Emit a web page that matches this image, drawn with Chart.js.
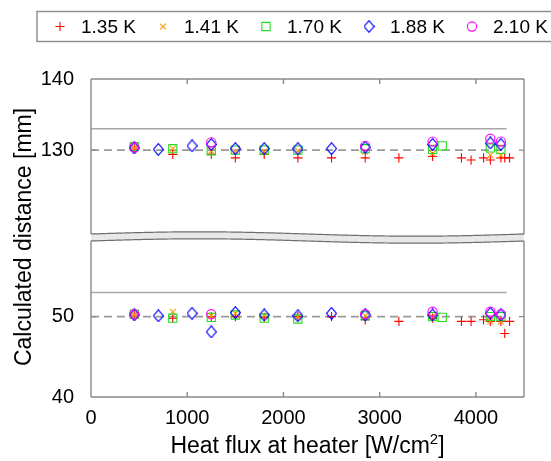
<!DOCTYPE html>
<html>
<head>
<meta charset="utf-8">
<script src="https://cdn.jsdelivr.net/npm/chart.js@4/dist/chart.umd.min.js"></script>
<style>
  body { margin: 0; background: #fff; }
  #wrap { position: relative; width: 551px; height: 461px; }
  canvas { position: absolute; left: 0; top: 0; }
</style>
</head>
<body>
<div id="wrap">
  <canvas id="graf-topo" width="551" height="461"></canvas>
  <canvas id="graf-base" width="551" height="461"></canvas>
</div>
<script>
// Dados
const labels = ['1.35 K', '1.41 K', '1.70 K', '1.88 K', '2.10 K'];

const fluxA = [450, 850, 1250, 1500, 1800, 2150, 2500, 2850, 3200, 3550, 3850, 3950, 4080, 4150, 4260, 4300, 4350];
const topoA = [130.3, 129.4, 129.4, 128.9, 129.4, 128.9, 128.9, 128.9, 128.9, 129.1, 128.9, 128.6, 128.9, 128.6, 128.9, 128.9, 128.9];
const baseA = [50.2, 49.8, 50.0, 50.0, 49.9, 50.0, 50.0, 49.6, 49.4, 49.8, 49.4, 49.4, 49.6, 49.4, 49.4, 47.9, 49.4];

const fluxB = [450, 850, 1250, 1500, 1800, 2150, 2850, 3550, 4150, 4260];
const topoB = [130.3, 130.2, 129.9, 129.8, 129.8, 129.9, 129.8, 129.5, 129.3, 129.3];
const baseB = [50.2, 50.6, 50.1, 50.4, 50.1, 50.0, 50.1, 50.0, 49.4, 49.4];

const fluxC = [450, 850, 1250, 1500, 1800, 2150, 2850, 3550, 3650, 4150, 4260];
const topoC = [130.5, 130.2, 129.9, 130.0, 130.0, 130.0, 130.2, 130.1, 130.6, 130.3, 130.1];
const baseC = [50.3, 49.8, 49.9, 50.2, 49.8, 49.7, 50.1, 50.0, 49.9, 50.0, 50.0];

const fluxD = [450, 700, 1050, 1250, 1500, 1800, 2150, 2500, 2850, 3550, 4150, 4260];
const topoD = [130.3, 130.1, 130.6, 130.8, 130.2, 130.2, 130.2, 130.2, 130.4, 130.8, 131.0, 130.8];
const baseD = [50.2, 50.1, 50.4, 48.1, 50.5, 50.2, 50.1, 50.4, 50.2, 50.2, 50.4, 50.2];

const fluxE = [450, 1250, 2850, 3550, 4150, 4260];
const topoE = [130.4, 131.1, 130.6, 131.2, 131.6, 131.2];
const baseE = [50.3, 50.3, 50.3, 50.6, 50.6, 50.3];

// Linhas de referência
const refX = [0, 4320];
const topoTracejada = 130, topoSolida = 133;
const baseTracejada = 50, baseSolida = 53;

const xTicks = [0, 1000, 2000, 3000, 4000];
const topoTicks = [130, 140];
const baseTicks = [40, 50];

// Diamante um pouco mais alto que largo, como no original
function criarDiamante() {
  const c = document.createElement('canvas');
  c.width = 11; c.height = 13;
  const g = c.getContext('2d');
  g.strokeStyle = '#0000ff';
  g.lineWidth = 1.1;
  g.beginPath();
  g.moveTo(5.5, 0.6); g.lineTo(10.4, 6.5); g.lineTo(5.5, 12.4); g.lineTo(0.6, 6.5);
  g.closePath();
  g.stroke();
  return c;
}
const diamante = criarDiamante();

const estilos = [
  { pointStyle: 'cross', radius: 4.6, color: '#ff0000' },
  { pointStyle: 'crossRot', radius: 4.2, color: '#ff9900' },
  { pointStyle: 'rect', radius: 5.8, color: '#22dd22' },
  { pointStyle: diamante, radius: 5.5, color: '#0000ff' },
  { pointStyle: 'circle', radius: 4.6, color: '#ff00ff' }
];

function pts(xs, ys) {
  return xs.map((x, i) => ({ x, y: ys[i] }));
}

function datasetsPara(series, tracejada, solida) {
  const ds = series.map((s, i) => ({
    label: labels[i],
    data: pts(s[0], s[1]),
    pointStyle: estilos[i].pointStyle,
    pointRadius: estilos[i].radius,
    pointBorderColor: estilos[i].color,
    pointBackgroundColor: 'rgba(0,0,0,0)',
    pointBorderWidth: 1.1,
    showLine: false,
    order: 5 - i
  }));
  ds.push({
    label: 'tracejada',
    data: pts(refX, refX.map(() => tracejada)),
    showLine: true, pointRadius: 0, borderColor: '#9a9a9a', borderWidth: 1.6,
    borderDash: [8, 5], order: 10
  });
  ds.push({
    label: 'solida',
    data: pts(refX, refX.map(() => solida)),
    showLine: true, pointRadius: 0, borderColor: '#a8a8a8', borderWidth: 1.6,
    order: 10
  });
  return ds;
}

// Moldura com ticks para dentro
const molduraPlugin = {
  id: 'moldura',
  afterDatasetsDraw(chart, args, opts) {
    const { ctx, chartArea: a, scales } = chart;
    ctx.save();
    ctx.strokeStyle = '#8a8a8a';
    ctx.lineWidth = 1.4;
    ctx.beginPath();
    ctx.moveTo(a.left, a.top); ctx.lineTo(a.left, a.bottom);
    ctx.moveTo(a.right, a.top); ctx.lineTo(a.right, a.bottom);
    if (opts.topo) { ctx.moveTo(a.left, a.top); ctx.lineTo(a.right, a.top); }
    if (opts.base) { ctx.moveTo(a.left, a.bottom); ctx.lineTo(a.right, a.bottom); }
    xTicks.forEach(v => {
      const px = scales.x.getPixelForValue(v);
      if (opts.topo) { ctx.moveTo(px, a.top); ctx.lineTo(px, a.top + 5); }
      if (opts.base) { ctx.moveTo(px, a.bottom); ctx.lineTo(px, a.bottom - 5); }
    });
    opts.yTicks.forEach(v => {
      const py = scales.y.getPixelForValue(v);
      ctx.moveTo(a.left, py); ctx.lineTo(a.left + 5, py);
      ctx.moveTo(a.right, py); ctx.lineTo(a.right - 5, py);
    });
    ctx.stroke();
    ctx.restore();
  }
};

// Quebra ondulada entre os painéis
const ondaPlugin = {
  id: 'onda',
  afterDraw(chart) {
    const { ctx, chartArea: a } = chart;
    const y2 = a.top, y1 = a.top - 7, amp = 2.2;
    const f = x => -amp * Math.sin(2 * Math.PI * (x - a.left) / (a.right - a.left));
    ctx.save();
    ctx.beginPath();
    for (let x = a.left; x <= a.right; x++) ctx.lineTo(x, y1 + f(x));
    for (let x = a.right; x >= a.left; x--) ctx.lineTo(x, y2 + f(x));
    ctx.closePath();
    ctx.fillStyle = '#e8e8e8';
    ctx.fill();
    ctx.strokeStyle = '#6e6e6e';
    ctx.lineWidth = 1.2;
    [y1, y2].forEach(yb => {
      ctx.beginPath();
      for (let x = a.left; x <= a.right; x++) ctx.lineTo(x, yb + f(x));
      ctx.stroke();
    });
    ctx.restore();
  }
};

// Títulos dos eixos (com sobrescrito)
const titulosPlugin = {
  id: 'titulos',
  afterDraw(chart) {
    const { ctx, chartArea: a } = chart;
    ctx.save();
    ctx.fillStyle = '#000';
    ctx.textBaseline = 'alphabetic';
    const f1 = '23px "Liberation Sans", Arial, sans-serif';
    const f2 = '15px "Liberation Sans", Arial, sans-serif';
    const p1 = 'Heat flux at heater [W/cm', p2 = '2', p3 = ']';
    ctx.font = f1;
    const w1 = ctx.measureText(p1).width, w3 = ctx.measureText(p3).width;
    ctx.font = f2;
    const w2 = ctx.measureText(p2).width;
    let x = (a.left + a.right) / 2 - (w1 + w2 + w3) / 2;
    const yb = 453;
    ctx.font = f1; ctx.textAlign = 'left';
    ctx.fillText(p1, x, yb); x += w1;
    ctx.font = f2; ctx.fillText(p2, x, yb - 9); x += w2;
    ctx.font = f1; ctx.fillText(p3, x, yb);
    // eixo y
    ctx.translate(31, 237);
    ctx.rotate(-Math.PI / 2);
    ctx.textAlign = 'center';
    ctx.font = f1;
    ctx.fillText('Calculated distance [mm]', 0, 0);
    ctx.restore();
  }
};

// Legenda em caixa
const legendaPlugin = {
  id: 'legenda',
  afterDraw(chart) {
    const { ctx } = chart;
    ctx.save();
    ctx.strokeStyle = '#8a8a8a';
    ctx.lineWidth = 1.4;
    ctx.strokeRect(37, 11.5, 530, 30);
    ctx.font = '19px "Liberation Sans", Arial, sans-serif';
    ctx.textBaseline = 'middle';
    ctx.fillStyle = '#000';
    labels.forEach((lb, i) => {
      const mx = 60 + i * 103, my = 26.5;
      const e = estilos[i];
      ctx.strokeStyle = e.color;
      ctx.fillStyle = 'rgba(0,0,0,0)';
      ctx.lineWidth = 1.1;
      Chart.helpers.drawPoint(ctx, { pointStyle: e.pointStyle, radius: e.radius, rotation: 0, borderWidth: 1.1 }, mx, my);
      ctx.fillStyle = '#000';
      ctx.fillText(lb, mx + 21, my + 1);
    });
    ctx.restore();
  }
};

const fonteTicks = { family: '"Liberation Sans", Arial, sans-serif', size: 20 };

function eixoY(min, max, ticks) {
  return {
    type: 'linear', min, max,
    afterBuildTicks: s => { s.ticks = ticks.map(v => ({ value: v })); },
    afterFit: s => { s.width = 91; },
    grid: { display: false },
    border: { display: false },
    ticks: { color: '#000', font: fonteTicks, padding: 9, callback: v => String(v) }
  };
}

Chart.defaults.animation = false;

// Painel superior
new Chart(document.getElementById('graf-topo'), {
  type: 'scatter',
  data: {
    datasets: datasetsPara([[fluxA, topoA], [fluxB, topoB], [fluxC, topoC], [fluxD, topoD], [fluxE, topoE]], topoTracejada, topoSolida)
  },
  options: {
    responsive: false,
    devicePixelRatio: 1,
    layout: { padding: { left: 0, right: 27, top: 79, bottom: 227 } },
    plugins: { legend: { display: false }, tooltip: { enabled: false }, moldura: { topo: true, base: false, yTicks: topoTicks } },
    scales: {
      x: { type: 'linear', min: 0, max: 4500, display: false },
      y: eixoY(118.2, 140, topoTicks)
    }
  },
  plugins: [molduraPlugin, legendaPlugin]
});

// Painel inferior
new Chart(document.getElementById('graf-base'), {
  type: 'scatter',
  data: {
    datasets: datasetsPara([[fluxA, baseA], [fluxB, baseB], [fluxC, baseC], [fluxD, baseD], [fluxE, baseE]], baseTracejada, baseSolida)
  },
  options: {
    responsive: false,
    devicePixelRatio: 1,
    layout: { padding: { left: 0, right: 27, top: 241, bottom: 0 } },
    plugins: { legend: { display: false }, tooltip: { enabled: false }, moldura: { topo: false, base: true, yTicks: baseTicks } },
    scales: {
      x: {
        type: 'linear', min: 0, max: 4500,
        afterBuildTicks: s => { s.ticks = xTicks.map(v => ({ value: v })); },
        afterFit: s => { s.height = 64; },
        grid: { display: false },
        border: { display: false },
        ticks: { color: '#000', font: fonteTicks, padding: 1, callback: v => String(v) }
      },
      y: eixoY(40, 59.4, baseTicks)
    }
  },
  plugins: [molduraPlugin, ondaPlugin, titulosPlugin]
});
</script>
</body>
</html>
